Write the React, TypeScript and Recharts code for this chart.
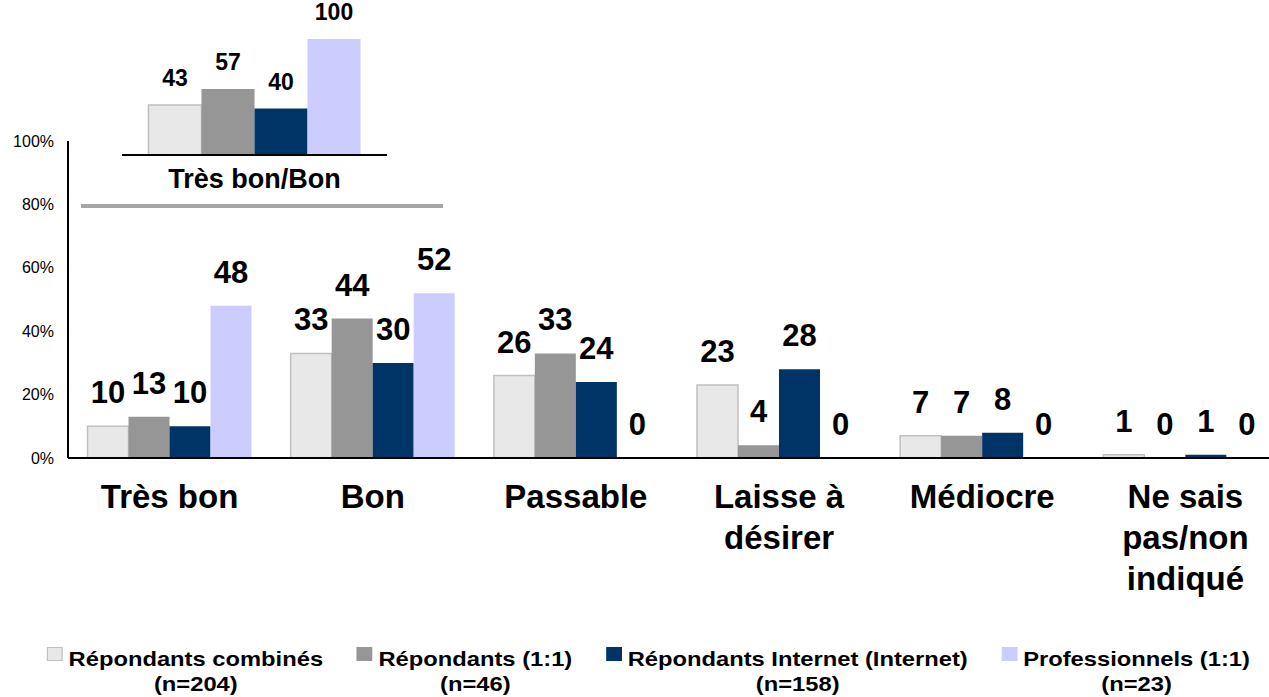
import React from 'react';
import { BarChart, Bar, XAxis, YAxis, LabelList } from 'recharts';

// main chart values (%)
const categories = ['Très bon', 'Bon', 'Passable', 'Laisse à\ndésirer', 'Médiocre', 'Ne sais\npas/non\nindiqué'];
const combines = [10, 33, 26, 23, 7, 1];
const repondants11 = [13, 44, 33, 4, 7, 0];
const internet = [10, 30, 24, 28, 8, 1];
const professionnels = [48, 52, 0, 0, 0, 0];

// inset: Très bon + Bon
const insetCategories = ['Très bon/Bon'];
const insetCombines = [43];
const insetRepondants11 = [57];
const insetInternet = [40];
const insetProfessionnels = [100];

const yTicks = [0, 20, 40, 60, 80, 100];

const seriesNames = ['Répondants combinés', 'Répondants (1:1)', 'Répondants Internet (Internet)', 'Professionnels (1:1)'];
const seriesN = ['(n=204)', '(n=46)', '(n=158)', '(n=23)'];
const seriesKeys = ['combines', 'repondants11', 'internet', 'professionnels'];
const seriesColors = ['#E8E8E8', '#969696', '#003366', '#CCCCFF'];

const FONT = '"Liberation Sans", Arial, sans-serif';

const chartData = categories.map((name, i) => ({
  name,
  combines: combines[i],
  repondants11: repondants11[i],
  internet: internet[i],
  professionnels: professionnels[i],
}));

const insetData = insetCategories.map((name, i) => ({
  name,
  combines: insetCombines[i],
  repondants11: insetRepondants11[i],
  internet: insetInternet[i],
  professionnels: insetProfessionnels[i],
}));

const CategoryTick = (props: any) => {
  const { x, y, payload } = props;
  const lines = String(payload.value).split('\n');
  return (
    <text x={x} y={y} textAnchor="middle" fontFamily={FONT} fontSize={33} fontWeight="bold" fill="#000">
      {lines.map((line, i) => (
        <tspan key={i} x={x} dy={i === 0 ? 50 : 41}>{line}</tspan>
      ))}
    </text>
  );
};

const InsetTick = (props: any) => {
  const { x, y, payload } = props;
  return (
    <text x={x} y={y + 33} textAnchor="middle" fontFamily={FONT} fontSize={27} fontWeight="bold" fill="#000">
      {payload.value}
    </text>
  );
};

// label drawn by hand so that 0 values still get their label
const makeValueLabel = (offset: number, size: number) => (p: any) => {
  const { x, y, width, height, value } = p;
  if (value === undefined || value === null) return null;
  const top = Math.min(Number(y), Number(y) + Number(height || 0));
  return (
    <text
      x={Number(x) + Number(width) / 2}
      y={top - offset}
      textAnchor="middle"
      fontFamily={FONT}
      fontSize={size}
      fontWeight="bold"
      fill="#000"
    >
      {String(value)}
    </text>
  );
};

const mainLabel = makeValueLabel(23, 31);
const insetLabel = makeValueLabel(19, 23);

const App: React.FC = () => {
  return (
    <div style={{ position: 'relative', width: 1269, height: 697, overflow: 'hidden', background: '#fff', fontFamily: FONT }}>
      <style>{'body{margin:0;overflow:hidden}'}</style>

      {/* main chart */}
      <div style={{ position: 'absolute', left: 0, top: 0 }}>
        <BarChart
          width={1300}
          height={640}
          data={chartData}
          margin={{ top: 141, right: 13, left: 0, bottom: 0 }}
          barCategoryGap="9.6%"
          barGap={0}
        >
          <XAxis
            dataKey="name"
            height={182}
            axisLine={{ stroke: '#000', strokeWidth: 2 }}
            tickLine={false}
            tickSize={0}
            tickMargin={0}
            tick={<CategoryTick />}
            interval={0}
          />
          <YAxis
            width={68}
            domain={[0, 100]}
            ticks={yTicks}
            tickFormatter={(v) => `${v}%`}
            axisLine={{ stroke: '#000', strokeWidth: 2 }}
            tickLine={false}
            tickSize={6}
            tickMargin={8}
            tick={{ fill: '#000', fontSize: 16, fontFamily: FONT }}
          />
          {seriesKeys.map((key, i) => (
            <Bar
              key={key}
              dataKey={key}
              fill={seriesColors[i]}
              stroke={i === 0 ? '#C0C0C0' : 'none'}
              strokeWidth={i === 0 ? 1.5 : 0}
              minPointSize={0.001}
              isAnimationActive={false}
            >
              <LabelList dataKey={key} content={mainLabel} />
            </Bar>
          ))}
        </BarChart>
      </div>

      {/* inset chart */}
      <div style={{ position: 'absolute', left: 122, top: 0 }}>
        <BarChart
          width={265}
          height={205}
          data={insetData}
          margin={{ top: 39, right: 0, left: 0, bottom: 0 }}
          barCategoryGap="10%"
          barGap={0}
        >
          <XAxis
            dataKey="name"
            height={50}
            axisLine={{ stroke: '#000', strokeWidth: 2 }}
            tickLine={false}
            tickSize={0}
            tickMargin={0}
            tick={<InsetTick />}
          />
          <YAxis hide domain={[0, 100]} />
          {seriesKeys.map((key, i) => (
            <Bar
              key={key}
              dataKey={key}
              fill={seriesColors[i]}
              stroke={i === 0 ? '#C0C0C0' : 'none'}
              strokeWidth={i === 0 ? 1.5 : 0}
              isAnimationActive={false}
            >
              <LabelList dataKey={key} content={insetLabel} />
            </Bar>
          ))}
        </BarChart>
      </div>

      {/* separator under inset */}
      <div style={{ position: 'absolute', left: 81, top: 204, width: 362, height: 4, background: '#A6A6A6' }} />

      {/* legend */}
      <div
        style={{
          position: 'absolute',
          left: 0,
          top: 646,
          width: 1297,
          display: 'flex',
          justifyContent: 'center',
          gap: 30,
          fontSize: 21,
          fontWeight: 'bold',
          color: '#000',
          lineHeight: '25px',
          transform: 'scaleX(1.13)',
          transformOrigin: '648px 0',
        }}
      >
        {seriesNames.map((name, i) => (
          <div key={name} style={{ display: 'flex', alignItems: 'flex-start' }}>
            <div
              style={{
                width: i === 0 ? 12 : 14,
                height: i === 0 ? 12 : 14,
                marginTop: 1,
                marginRight: 5,
                background: seriesColors[i],
                border: i === 0 ? '1px solid #C0C0C0' : 'none',
              }}
            />
            <div style={{ textAlign: 'center', whiteSpace: 'nowrap' }}>
              <div>{name}</div>
              <div>{seriesN[i]}</div>
            </div>
          </div>
        ))}
      </div>
    </div>
  );
};

export default App;
